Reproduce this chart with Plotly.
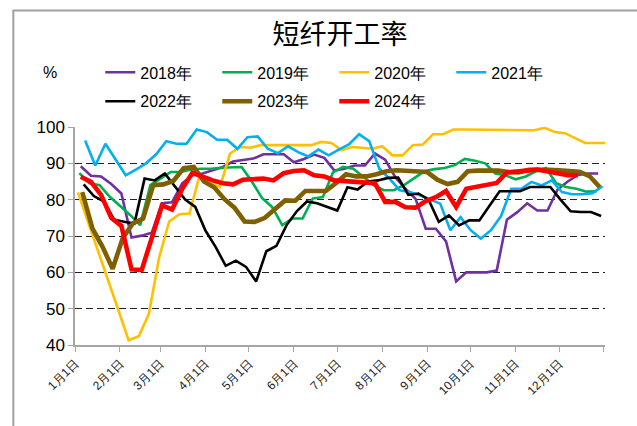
import plotly.graph_objects as go

title_text = "短纤开工率"
unit_text = "%"
series_names = ["2018年", "2019年", "2020年", "2021年", "2022年", "2023年", "2024年"]
# day-of-year (Jan 1 = 0) of each year's first weekly observation
start_days = [4, 3, 2, 7, 6, 5, 4]

v2018 = [89.2, 86.6, 86.4, 84.3, 81.7, 69.6, 70.1, 70.9, 79, 79.3, 84.5, 86.7, 87.2, 88, 89, 90.5, 91, 91.3,
         92.5, 92.5, 92.5, 90.3, 91.2, 92.4, 91.5, 88, 88.5, 89.4, 89.4, 92.7, 91, 86.2, 83, 80.2, 72, 72,
         68.5, 57.5, 60, 60, 60, 60.5, 74.5, 76.5, 79, 77, 77, 82.8, 85, 86.8, 87.2, 87.2]
v2019 = [87.3, 84.5, 84, 80.8, 78.3, 75.8, 73, 84, 85.8, 87.6, 87.6, 88.3, 88.5, 88.5, 88.8, 89, 89, 85,
         80.5, 78, 73, 74.8, 74.8, 80.3, 80.7, 87.5, 89, 88.5, 86.2, 84, 82.6, 82.6, 84, 86, 87.8, 88.4,
         88.7, 89.5, 91.2, 90.7, 90, 87.2, 86.7, 85.6, 86.4, 87.8, 88.7, 84.5, 83.5, 83, 82.2, 82.3]
v2020 = [82, 74, 66, 57.5, 49.5, 41.3, 42.4, 48.6, 64, 74, 76, 76.2, 86.7, 84.5, 83.5, 92.7, 94.5, 94.3,
         95, 95, 95, 95, 95, 95, 95.9, 95.6, 93.6, 94.5, 94.3, 94, 94.7, 92.2, 92.2, 95, 95.2, 98, 98,
         99.3, 99.3, 99.3, 99.3, 99.3, 99.3, 99.3, 99.1, 99.1, 99.8, 98.6, 98.3, 97, 95.6, 95.6, 95.6]
v2021 = [96.3, 89.4, 95.4, 91.1, 86.7, 88.3, 90, 92.5, 96.1, 95.4, 95.4, 99.3, 98.6, 96.5, 96.5, 94, 97.2,
         97.4, 94, 92.8, 94.7, 93.1, 91.9, 93.8, 92.2, 93.8, 95.2, 98, 96.1, 88.5, 85.8, 82.6, 82.1, 81.2,
         80, 78.9, 71.6, 75.2, 71.6, 69.3, 71.6, 75.5, 83, 83, 84.9, 83.9, 85.3, 82.1, 81.5, 81.5, 81.8, 83.7]
v2022 = [84.2, 81, 79.5, 74.5, 73.9, 73.4, 85.8, 85.3, 87.2, 83.5, 80, 78, 71.5, 67, 61.8, 63.2, 61.5,
         57.5, 65.8, 67.3, 73, 76.8, 79.5, 79, 78, 77, 83.4, 82.8, 85, 85.3, 86, 86.1, 81.3, 81.7, 80,
         73.9, 75.7, 72.9, 74.3, 74.3, 78.3, 82.3, 82.3, 82.3, 83.5, 83.5, 83.5, 80, 76.8, 76.6, 76.6, 75.5]
v2023 = [82.1, 72.1, 67, 61, 69.5, 73.5, 74.8, 84, 84.2, 85.2, 88.7, 89, 85, 83.4, 80.2, 77.8, 74, 73.9,
         75, 77.5, 79.8, 79.7, 82.4, 82.4, 82.4, 84.5, 87, 86.4, 86.4, 87, 87.8, 88.1, 88, 87.7, 87.6,
         85.5, 84.3, 84.9, 87.8, 88, 88, 88, 87.6, 87.5, 88.2, 88.3, 88.2, 88.1, 88, 87.7, 86.5, 83.5]
v2024 = [86.3, 84.9, 81.3, 75, 72.8, 60.8, 60.6, 70, 78.4, 77.3, 83, 87.4, 86.2, 85.3, 84.5, 84.2, 85.5,
         85.8, 85.8, 85.3, 87.3, 87.9, 88.1, 86.7, 86.4, 85.3, 85.1, 84.7, 84.6, 84.5, 79.4, 79.4, 77.9,
         77.8, 79.6, 80.7, 82.4, 78, 83, 83.5, 84.2, 84.6, 87.5, 87.6, 88, 88.3, 87.8, 87, 86.7, 86.7]

month_tick_days = [0, 31, 59, 90, 120, 151, 181, 212, 243, 273, 304, 334, 365]
month_tick_labels = ["1月1日", "2月1日", "3月1日", "4月1日", "5月1日", "6月1日", "7月1日",
                     "8月1日", "9月1日", "10月1日", "11月1日", "12月1日", ""]
y_ticks = [40, 50, 60, 70, 80, 90, 100]

all_values = [v2018, v2019, v2020, v2021, v2022, v2023, v2024]
colors = ["#7030A0", "#00B050", "#FFC000", "#00B0F0", "#000000", "#7F6000", "#FF0000"]
widths = [2.6, 2.6, 2.6, 2.6, 2.6, 4.6, 4.6]
legend_ids = ["legend", "legend", "legend", "legend", "legend2", "legend2", "legend2"]

W, H = 637, 426
L, R, T, B = 74.7, 32, 126.7, 81
pw, ph = W - L - R, H - T - B


def px_x(px):
    return (px - L) / pw


def px_y(py):
    return (H - B - py) / ph


fig = go.Figure()
for name, vals, d0, c, w, lg in zip(series_names, all_values, start_days, colors, widths, legend_ids):
    xs = [d0 + 7 * i for i in range(len(vals))]
    fig.add_trace(go.Scatter(x=xs, y=vals, mode="lines", name=name,
                             line=dict(color=c, width=w), legend=lg))

legend_common = dict(orientation="h", xanchor="left", yanchor="middle",
                     font=dict(family="Liberation Sans, Arial", size=16, color="#000000"),
                     bgcolor="rgba(0,0,0,0)", entrywidth=72, entrywidthmode="pixels",
                     itemclick=False, itemdoubleclick=False)

fig.update_layout(
    width=W, height=H,
    margin=dict(l=L, r=R, t=T, b=B, pad=0, autoexpand=False),
    paper_bgcolor="white", plot_bgcolor="white",
    title=dict(text=title_text, x=0.5, xanchor="center", xref="paper",
               y=1 - 35 / H, yanchor="middle", yref="container",
               font=dict(family="Noto Sans CJK SC", size=27, color="#000000")),
    legend=dict(x=px_x(100), y=px_y(72), **legend_common),
    legend2=dict(x=px_x(100), y=px_y(101), **legend_common),
    xaxis=dict(range=[0, 365.7], tickmode="array", tickvals=month_tick_days, ticktext=month_tick_labels,
               tickangle=-45, ticks="outside", ticklen=5, tickcolor="#A6A6A6", tickwidth=1.3,
               showline=True, linecolor="#A6A6A6", linewidth=1.5, showgrid=False, zeroline=False,
               automargin=False,
               tickfont=dict(family="Liberation Sans, Arial", size=12, color="#222222")),
    yaxis=dict(range=[40, 100], tickmode="array", tickvals=y_ticks,
               ticks="outside", ticklen=5, tickcolor="#A6A6A6", tickwidth=1.3,
               showline=True, linecolor="#A6A6A6", linewidth=1.5, zeroline=False,
               showgrid=True, gridcolor="#222222", gridwidth=1.4, griddash="7px,4px",
               automargin=False,
               tickfont=dict(family="Liberation Sans, Arial", size=17, color="#000000")),
    annotations=[dict(text=unit_text, x=px_x(50), y=px_y(72), xref="paper", yref="paper",
                      showarrow=False, xanchor="center", yanchor="middle",
                      font=dict(family="Liberation Sans, Arial", size=16, color="#000000"))],
    shapes=[dict(type="rect", xref="paper", yref="paper",
                 x0=px_x(13), x1=px_x(660), y0=px_y(450), y1=px_y(10),
                 line=dict(color="#A0A0A0", width=2), fillcolor="rgba(0,0,0,0)", layer="below")],
)

fig.write_html("out.html", config={"displayModeBar": False},
               post_script="document.body.style.margin='0px';")
